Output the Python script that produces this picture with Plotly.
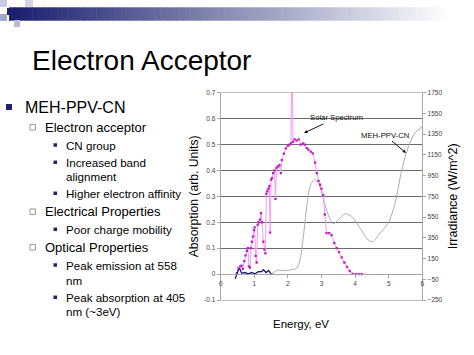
import plotly.graph_objects as go

# ---------------- data ----------------
solar_energy = [0.48, 0.53, 0.58, 0.62, 0.66, 0.70, 0.74, 0.78, 0.81, 0.84, 0.87, 0.90, 0.93, 0.96,
                0.99, 1.01, 1.04, 1.07, 1.10, 1.13, 1.17, 1.20, 1.23, 1.27, 1.30, 1.33, 1.36, 1.39,
                1.42, 1.45, 1.47, 1.50, 1.53, 1.56, 1.60, 1.63, 1.66, 1.70, 1.75, 1.79, 1.82, 1.88,
                1.94, 2.00, 2.05, 2.09, 2.12, 2.15, 2.20, 2.26, 2.32, 2.38, 2.45, 2.51, 2.56, 2.61,
                2.68, 2.74, 2.81, 2.86, 2.91, 2.96, 3.00, 3.05, 3.10, 3.15, 3.23, 3.30, 3.38, 3.45,
                3.52, 3.60, 3.68, 3.76, 3.84, 3.93, 4.03, 4.12, 4.20]
solar_irradiance = [10, 55, 75, 82, 50, 125, 180, 225, 250, 75, 62, 250, 312, 362,
                    425, 450, 175, 112, 475, 500, 525, 588, 500, 312, 238, 200, 775, 800,
                    825, 850, 400, 912, 925, 975, 1000, 725, 1025, 1038, 1050, 975, 1100, 1162,
                    1212, 1238, 1250, 1262, 2375, 1275, 1300, 1288, 1300, 1250, 1262, 1250, 1215, 1200,
                    1182, 1165, 1075, 975, 900, 862, 825, 762, 575, 395, 395, 375, 300, 250,
                    212, 162, 112, 70, 30, 2, 0, 0, 0]

meh_energy = [1.52, 1.67, 1.96, 2.26, 2.36, 2.46, 2.56, 2.66, 2.78, 2.91, 3.06, 3.20, 3.35,
              3.50, 3.70, 3.90, 4.15, 4.39, 4.52, 4.74, 4.99, 5.19, 5.39, 5.59, 5.78, 6.00]
meh_absorption = [0.000, 0.014, 0.014, 0.023, 0.055, 0.145, 0.260, 0.338, 0.364, 0.350, 0.287,
                  0.229, 0.194, 0.210, 0.233, 0.222, 0.177, 0.132, 0.125, 0.158, 0.197, 0.274,
                  0.402, 0.492, 0.544, 0.570]

ir_energy = [0.43, 0.53, 0.57, 0.62, 0.72, 0.82, 0.92, 1.02, 1.12, 1.22, 1.27, 1.35, 1.43, 1.49, 1.54]
ir_absorption = [-0.018, 0.017, 0.020, 0.004, 0.006, 0.001, 0.006, 0.001, 0.009, 0.010, 0.017,
                 0.006, 0.014, 0.001, 0.000]

left_ticks = [-0.1, 0.0, 0.1, 0.2, 0.3, 0.4, 0.5, 0.6, 0.7]
grid_vals = [0.1, 0.2, 0.3, 0.4, 0.5, 0.6]
right_ticks = [-250, -50, 150, 350, 550, 750, 950, 1150, 1350, 1550, 1750]
x_ticks = [0, 1, 2, 3, 4, 5, 6]

slide_title = "Electron Acceptor"
bullets = [  # (level, text, y in px)
    (1, "MEH-PPV-CN", 107),
    (2, "Electron acceptor", 127.3),
    (3, "CN group", 145),
    (3, "Increased band", 162.3),
    (0, "alignment", 176.7),
    (3, "Higher electron affinity", 193.3),
    (2, "Electrical Properties", 211.7),
    (3, "Poor charge mobility", 229.3),
    (2, "Optical Properties", 247.3),
    (3, "Peak emission at 558", 265),
    (0, "nm", 280),
    (3, "Peak absorption at 405", 297.3),
    (0, "nm (~3eV)", 311),
]

W, H = 474, 355
FONT = "Liberation Sans, Arial, sans-serif"


def px(x):
    return x / W


def py(y):
    return 1 - y / H


NAVY = "#1f2272"
x_dom = [px(220.7), px(422.3)]
y_dom = [py(300), py(92.7)]
tick_font = dict(family=FONT, size=6.5, color="#404040")

fig = go.Figure()
fig.add_trace(go.Scatter(x=meh_energy, y=meh_absorption, mode="lines", name="MEH-PPV-CN",
                         line=dict(color="#ababab", width=1, shape="spline", smoothing=0.8),
                         xaxis="x", yaxis="y", showlegend=False, hoverinfo="skip"))
fig.add_trace(go.Scatter(x=ir_energy, y=ir_absorption, mode="lines", name="MEH-PPV-CN (IR)",
                         line=dict(color="#1c1c78", width=1.3),
                         xaxis="x2", yaxis="y3", showlegend=False, hoverinfo="skip"))
fig.add_trace(go.Scatter(x=solar_energy, y=solar_irradiance, mode="lines+markers", name="Solar Spectrum",
                         line=dict(color="#f29af2", width=1),
                         marker=dict(symbol="square", size=2.3, color="#c41cc4"),
                         xaxis="x", yaxis="y2", showlegend=False, hoverinfo="skip"))

fig.update_layout(
    width=W, height=H, autosize=False,
    margin=dict(l=0, r=0, t=0, b=0),
    paper_bgcolor="white", plot_bgcolor="white",
    showlegend=False,
    font=dict(family=FONT, color="black"),
    xaxis=dict(domain=x_dom, range=[0, 6], anchor="free", position=py(274.3),
               tickvals=x_ticks, showline=True, linecolor="#a6a6a6", linewidth=1,
               ticks="outside", ticklen=3, tickcolor="#a6a6a6", tickfont=tick_font,
               showgrid=False, zeroline=False, automargin=False, fixedrange=True),
    xaxis2=dict(domain=x_dom, range=[0, 6], overlaying="x", anchor="y3", side="bottom",
                showline=True, mirror=True, linecolor="#bdbdbd", linewidth=1,
                showticklabels=False, ticks="", showgrid=False, zeroline=False, automargin=False),
    yaxis=dict(domain=y_dom, range=[-0.1, 0.7], anchor="x", tickvals=left_ticks,
               ticktext=[("%g" % v) for v in left_ticks],
               showline=True, linecolor="#a6a6a6", linewidth=1,
               ticks="outside", ticklen=3, tickcolor="#a6a6a6", tickfont=tick_font,
               showgrid=False, zeroline=False, automargin=False,
               title=dict(text="Absorption (arb. Units)", font=dict(family=FONT, size=12.2, color="black"),
                          standoff=2)),
    yaxis3=dict(domain=y_dom, range=[-0.1, 0.7], overlaying="y", anchor="x2", tickvals=grid_vals,
                showticklabels=False, ticks="", showline=False, showgrid=True,
                gridcolor="#6a6a6a", gridwidth=1, zeroline=False, automargin=False),
    yaxis2=dict(domain=y_dom, range=[-250, 1750], overlaying="y", anchor="x", side="right",
                tickvals=right_ticks, showline=True, linecolor="#a6a6a6", linewidth=1,
                ticks="outside", ticklen=3, tickcolor="#a6a6a6", tickfont=tick_font,
                showgrid=False, zeroline=False, automargin=False,
                title=dict(text="Irradiance (W/m^2)", font=dict(family=FONT, size=12.5, color="black"),
                           standoff=6)),
)

annotations = []
# slide title
annotations.append(dict(text=slide_title, x=px(30), y=py(60), xref="paper", yref="paper",
                        xanchor="left", yanchor="middle", showarrow=False,
                        font=dict(family=FONT, size=28, color="black")))
# x-axis title
annotations.append(dict(text="Energy, eV", x=px(301), y=py(324), xref="paper", yref="paper",
                        xanchor="center", yanchor="middle", showarrow=False,
                        font=dict(family=FONT, size=11.5, color="black")))
# chart labels with arrows
annotations.append(dict(text="Solar Spectrum", x=px(304), y=py(133), xref="paper", yref="paper",
                        ax=32, ay=-15, showarrow=True, arrowhead=2, arrowsize=0.7, arrowwidth=1,
                        arrowcolor="#111", font=dict(family=FONT, size=7.7, color="#111")))
annotations.append(dict(text="MEH-PPV-CN", x=px(406), y=py(153), xref="paper", yref="paper",
                        ax=-21, ay=-18, showarrow=True, arrowhead=2, arrowsize=0.7, arrowwidth=1,
                        arrowcolor="#111", font=dict(family=FONT, size=7.7, color="#111")))

shapes = []
level_x = {1: 22.5, 2: 43, 3: 64, 0: 64}
level_size = {1: 16, 2: 13, 3: 11.6, 0: 11.6}
for level, text, y in bullets:
    annotations.append(dict(text=text, x=px(level_x[level]), y=py(y), xref="paper", yref="paper",
                            xanchor="left", yanchor="middle", showarrow=False,
                            font=dict(family=FONT, size=level_size[level], color="black")))
    if level == 1:
        shapes.append(dict(type="rect", xref="paper", yref="paper", x0=px(6), x1=px(12),
                           y0=py(y + 3), y1=py(y - 3), fillcolor=NAVY, line=dict(width=0)))
    elif level == 2:
        shapes.append(dict(type="rect", xref="paper", yref="paper", x0=px(30), x1=px(35.5),
                           y0=py(y + 2.75), y1=py(y - 2.75), fillcolor="white",
                           line=dict(width=1, color="#9a9a9a")))
    elif level == 3:
        shapes.append(dict(type="rect", xref="paper", yref="paper", x0=px(53.5), x1=px(57),
                           y0=py(y + 1.75), y1=py(y - 1.75), fillcolor=NAVY, line=dict(width=0)))

# top gradient banner
n_seg = 80
x_start, x_end = 9.0, 474.0
c0 = (27, 31, 110)
for i in range(n_seg):
    t = i / (n_seg - 1)
    tt = min(1.0, t * 1.05)
    r = int(c0[0] + (255 - c0[0]) * tt)
    g = int(c0[1] + (255 - c0[1]) * tt)
    b = int(c0[2] + (255 - c0[2]) * tt)
    xa = x_start + (x_end - x_start) * i / n_seg
    xb = x_start + (x_end - x_start) * (i + 1) / n_seg + 0.6
    shapes.append(dict(type="rect", xref="paper", yref="paper", x0=px(xa), x1=px(xb),
                       y0=py(20.7), y1=py(7.3), fillcolor="rgb(%d,%d,%d)" % (r, g, b),
                       line=dict(width=0), layer="below"))
# decorative squares at top-left
for (xa, ya, xb, yb, col) in [(0, 0, 7, 7, "#c9cbe2"), (7, 8, 13, 15, NAVY), (25, 0, 33, 7, "#d3d4e6"),
                              (14, 20, 20, 27, "#b9bbd6"), (0, 14, 7, 21, "#a3a6cb")]:
    shapes.append(dict(type="rect", xref="paper", yref="paper", x0=px(xa), x1=px(xb),
                       y0=py(yb), y1=py(ya), fillcolor=col, line=dict(width=0), layer="above"))

fig.update_layout(annotations=annotations, shapes=shapes)
fig.write_html("out.html",
               config={"displayModeBar": False, "staticPlot": True},
               post_script="document.body.style.margin='0';document.body.style.padding='0';"
                           "document.body.style.overflow='hidden';")
